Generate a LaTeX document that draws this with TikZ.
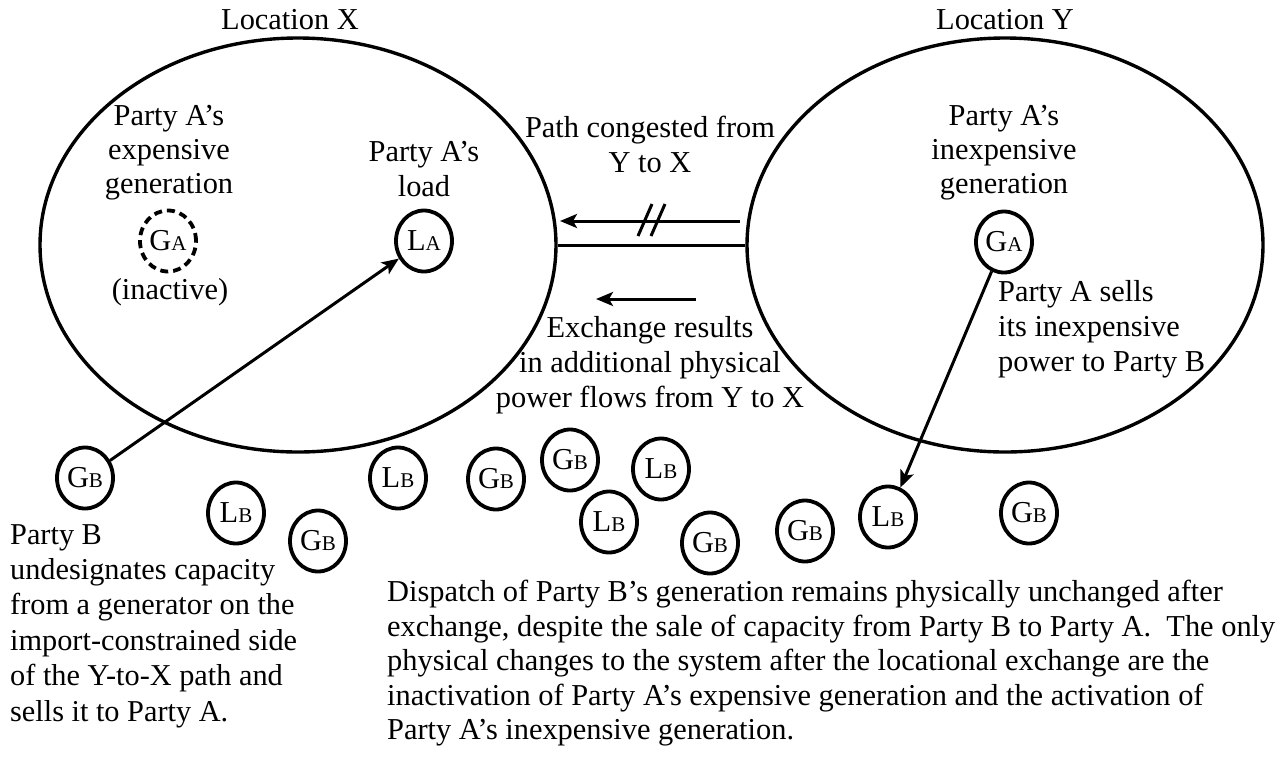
\documentclass[tikz,border=0pt]{standalone}
\usepackage{fontspec}
\newfontfamily\tnr{Liberation Serif}
\usetikzlibrary{arrows.meta,shapes.geometric}
\newcommand{\subl}[1]{{\fontsize{21}{21}\selectfont #1}}
\begin{document}
\begin{tikzpicture}[x=1pt,y=-1pt,
  every node/.style={font=\tnr\fontsize{30.4}{35}\selectfont, inner sep=0pt},
  region/.style={draw, ellipse, line width=3.4pt, minimum width=516pt, minimum height=414pt},
  unit/.style={draw, ellipse, line width=3.8pt, minimum width=56pt, minimum height=61pt},
  inactive/.style={unit, dash pattern=on 8pt off 5pt},
  flow/.style={line width=3pt, -{Stealth[length=17pt,width=14pt,inset=4pt]}},
  tie/.style={line width=3pt},
  slash/.style={line width=3pt}
]
\useasboundingbox (0,0) rectangle (1286,756);

% locations
\node[region] (locX) at (298,245) {};
\node[region] (locY) at (1005,245) {};
\node[anchor=north] (titleX) at (290,9) {Location X};
\node[anchor=north] (titleY) at (1005,9) {Location Y};

% tie line between locations
\draw[tie] (locX.east) -- (locY.west);

% arrows on the tie
\coordinate (u1) at (740,221);
\coordinate (u2) at (560,221);
\draw[flow] (u1) -- (u2);
\draw[slash] (638,236) -- (652,204);
\draw[slash] (651,236) -- (665,204);
\coordinate (l1) at (696,299);
\coordinate (l2) at (596,299);
\draw[flow] (l1) -- (l2);

\node[align=center, anchor=north] (cong) at (650,116) {Path congested from\\Y to X};
\node[align=center, anchor=north] (exch) at (650,316) {Exchange results\\in additional physical\\power flows from Y to X};

% location X content
\node[align=center, anchor=north, font=\tnr\fontsize{30.4}{34}\selectfont] (expgen) at (169,105) {Party A’s\\expensive\\generation};
\node[inactive] (gax) at (168,241) {G\subl{A}};
\node[anchor=base] (inact) at (170,299) {(inactive)};
\node[align=center, anchor=north] (loadlbl) at (424,141.5) {Party A’s\\load};
\node[unit] (la) at (424,241) {L\subl{A}};

% location Y content
\node[align=center, anchor=north, font=\tnr\fontsize{30.4}{34}\selectfont] (inexp) at (1004,105) {Party A’s\\inexpensive\\generation};
\node[unit] (gay) at (1004,242) {G\subl{A}};
\node[align=left, anchor=north west] (sells) at (998,280) {Party A sells\\its inexpensive\\power to Party B};

% Party B units
\node[unit] (gb1) at (85,478) {G\subl{B}};
\node[unit] (lb1) at (236,513) {L\subl{B}};
\node[unit] (gb2) at (318,541) {G\subl{B}};
\node[unit] (lb2) at (398,478) {L\subl{B}};
\node[unit] (gb3) at (496,479) {G\subl{B}};
\node[unit] (gb4) at (570,460) {G\subl{B}};
\node[unit] (lb3) at (661,469) {L\subl{B}};
\node[unit] (lb4) at (609,522) {L\subl{B}};
\node[unit] (gb5) at (710,543) {G\subl{B}};
\node[unit] (gb6) at (805,531) {G\subl{B}};
\node[unit] (lb5) at (888,517) {L\subl{B}};
\node[unit] (gb7) at (1029,513) {G\subl{B}};

% transactions
\draw[flow] (gb1) -- (la);
\draw[flow] (gay) -- (lb5);

% notes
\node[align=left, anchor=north west, font=\tnr\fontsize{30.3}{35.4}\selectfont] (partyb) at (10,524) {Party B\\undesignates capacity\\from a generator on the\\import-constrained side\\of the Y-to-X path and\\sells it to Party A.};
\node[align=left, anchor=north west, font=\tnr\fontsize{30.4}{34.5}\selectfont] (dispatch) at (387,580) {Dispatch of Party B’s generation remains physically unchanged after\\exchange, despite the sale of capacity from Party B to Party A.\ \ The only\\physical changes to the system after the locational exchange are the\\inactivation of Party A’s expensive generation and the activation of\\Party A’s inexpensive generation.};
\end{tikzpicture}
\end{document}
